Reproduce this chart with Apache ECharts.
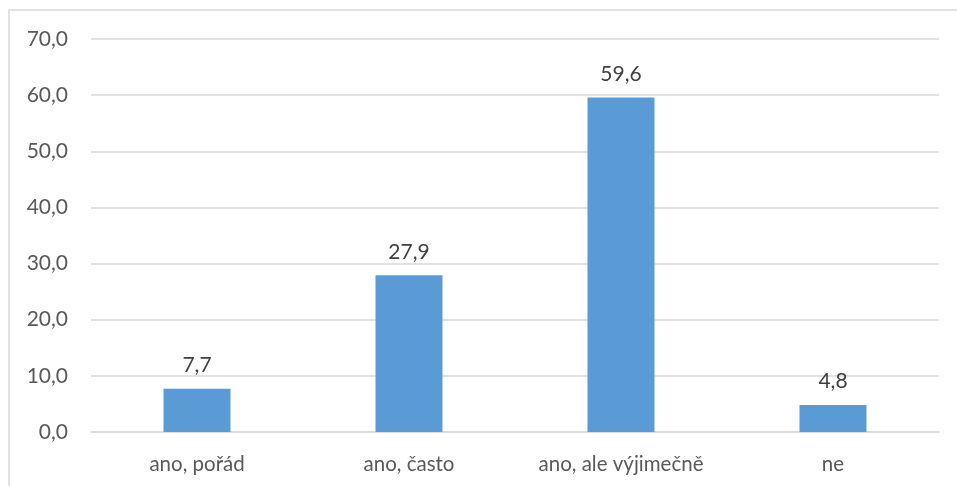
<!DOCTYPE html>
<html>
<head>
<meta charset="utf-8">
<script src="https://cdn.jsdelivr.net/npm/echarts@6/dist/echarts.min.js"></script>
<style>
  html, body { margin: 0; padding: 0; background: #fff; }
  #chart { width: 957px; height: 486px; }
</style>
</head>
<body>
<div id="chart"></div>
<script>
// Survey answers and their percentages
const categories = ['ano, pořád', 'ano, často', 'ano, ale výjimečně', 'ne'];
const values = [7.7, 27.9, 59.6, 4.8];
const yTicks = { min: 0, max: 70, interval: 10 };

const fmt = v => Number(v).toFixed(1).replace('.', ',');

const chart = echarts.init(document.getElementById('chart'));
chart.setOption({
  animation: false,
  textStyle: { fontFamily: 'Lato, "Open Sans", sans-serif' },
  graphic: [{
    type: 'rect',
    shape: { x: 9, y: 10, width: 960, height: 490 },
    style: { fill: 'none', stroke: '#d9d9d9', lineWidth: 1.5 },
    silent: true
  }],
  grid: { left: 91, right: 18, top: 39, bottom: 54 },
  xAxis: {
    type: 'category',
    data: categories,
    axisLine: { show: true, lineStyle: { color: '#d9d9d9', width: 1.5 } },
    axisTick: { show: false },
    axisLabel: { color: '#595959', fontSize: 20.5, margin: 22, interval: 0, hideOverlap: false }
  },
  yAxis: {
    type: 'value',
    min: yTicks.min,
    max: yTicks.max,
    interval: yTicks.interval,
    axisLine: { show: false },
    axisTick: { show: false },
    splitLine: { lineStyle: { color: '#d9d9d9', width: 1.5 } },
    axisLabel: { color: '#595959', fontSize: 21, margin: 23, formatter: fmt }
  },
  series: [{
    type: 'bar',
    data: values,
    barWidth: '31.6%',
    itemStyle: { color: '#5b9bd5' },
    label: {
      show: true,
      position: 'top',
      distance: 13,
      color: '#404040',
      fontSize: 21,
      formatter: p => fmt(p.value)
    }
  }]
});
</script>
</body>
</html>
